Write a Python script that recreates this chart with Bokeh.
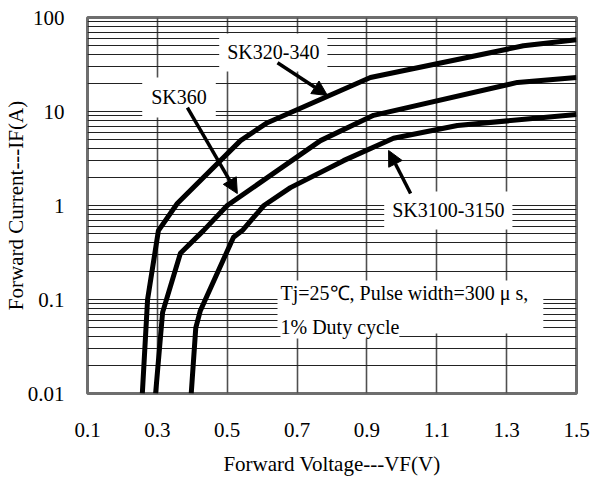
from bokeh.plotting import figure
from bokeh.models import FixedTicker, Arrow, NormalHead, BoxAnnotation
from bokeh.core.properties import value
from bokeh.embed import file_html
from bokeh.resources import INLINE

# ---- data ----
vf_sk320 = [0.257, 0.272, 0.303, 0.357, 0.538, 0.615, 0.91, 1.348, 1.5]
if_sk320 = [0.01, 0.1, 0.54, 1.05, 4.9, 7.6, 23, 50, 58]

vf_sk360 = [0.295, 0.315, 0.366, 0.432, 0.5, 0.767, 0.919, 1.331, 1.5]
if_sk360 = [0.01, 0.073, 0.31, 0.54, 1.0, 4.9, 9.1, 20.4, 23]

vf_sk3100 = [0.397, 0.41, 0.423, 0.518, 0.545, 0.605, 0.681, 0.833, 0.976, 1.159, 1.5]
if_sk3100 = [0.01, 0.05, 0.076, 0.46, 0.55, 1.0, 1.55, 3.0, 5.2, 7.1, 9.3]

x_ticks = [0.1, 0.3, 0.5, 0.7, 0.9, 1.1, 1.3, 1.5]
x_tick_labels = ["0.1", "0.3", "0.5", "0.7", "0.9", "1.1", "1.3", "1.5"]
y_ticks = [0.01, 0.1, 1, 10, 100]
y_tick_labels = ["0.01", "0.1", "1", "10", "100"]

FONT = "Liberation Serif"

p = figure(width=592, height=481, x_range=(0.1, 1.5), y_range=(0.01, 100),
           y_axis_type="log", output_backend="svg", toolbar_location=None,
           min_border_left=87, min_border_right=16, min_border_top=17, min_border_bottom=88)
p.background_fill_color = "white"
p.border_fill_color = "white"
p.outline_line_color = "#6e6e6e"
p.outline_line_width = 3

minor = [k * 10.0 ** e for e in range(-2, 2) for k in range(2, 10)]

p.xaxis.ticker = FixedTicker(ticks=x_ticks)
p.yaxis.ticker = FixedTicker(ticks=y_ticks, minor_ticks=minor)
p.xaxis.major_label_overrides = dict(zip(x_ticks, x_tick_labels))
p.yaxis.major_label_overrides = dict(zip([float(t) for t in y_ticks], y_tick_labels))

for ax in (p.xaxis, p.yaxis):
    ax.axis_line_color = None
    ax.major_tick_line_color = None
    ax.minor_tick_line_color = None
    ax.major_label_text_font = FONT
    ax.major_label_text_font_size = "21px"
    ax.major_label_text_color = "black"
    ax.axis_label_text_font = FONT
    ax.axis_label_text_font_size = "21px"
    ax.axis_label_text_font_style = "normal"
    ax.axis_label_text_color = "black"

p.xaxis.axis_label = "Forward Voltage---VF(V)"
p.yaxis.axis_label = "Forward Current---IF(A)"
p.xaxis.major_label_standoff = 23
p.xaxis.axis_label_standoff = 12
p.yaxis.major_label_standoff = 17
p.yaxis.axis_label_standoff = -3

p.xgrid.ticker = FixedTicker(ticks=x_ticks)
p.xgrid.grid_line_color = "#505050"
p.xgrid.grid_line_width = 1.6
p.ygrid.ticker = FixedTicker(ticks=y_ticks, minor_ticks=minor)
p.ygrid.grid_line_color = "#222222"
p.ygrid.grid_line_width = 1.2
p.ygrid.minor_grid_line_color = "#222222"
p.ygrid.minor_grid_line_width = 1.1

# white condition box above the grid
p.add_layout(BoxAnnotation(left=0.644, right=1.405, top=0.159, bottom=0.0435,
                           fill_color="white", fill_alpha=1.0, line_color=None,
                           level="underlay"))

for xs, ys in ((vf_sk320, if_sk320), (vf_sk360, if_sk360), (vf_sk3100, if_sk3100)):
    p.line(xs, ys, line_color="black", line_width=5, line_join="round", line_cap="butt")

def lab(x, y, text, align="center", pad=6):
    p.text(x=[x], y=[y], text=[text], text_font=value(FONT), text_font_size="20px",
           text_align=align, text_baseline="middle", text_color="black",
           background_fill_color="white", background_fill_alpha=1.0, padding=pad)

lab(0.632, 42.5, "SK320-340", pad=8)
lab(0.362, 14.1, "SK360", pad=9)
lab(1.133, 0.885, "SK3100-3150", pad=8)
lab(0.6525, 0.116, "Tj=25\u2103, Pulse width=300 \u03bc s,", align="left", pad=0)
lab(0.6525, 0.0504, "1% Duty cycle", align="left", pad=0)

def arrow(x0, y0, x1, y1):
    p.add_layout(Arrow(x_start=x0, y_start=y0, x_end=x1, y_end=y1,
                       line_width=3.5, line_color="black",
                       end=NormalHead(size=15, fill_color="black", line_color="black", line_width=1)))

arrow(0.644, 33, 0.787, 14.8)
arrow(0.386, 11, 0.529, 1.34)
arrow(1.025, 1.34, 0.962, 3.85)

open("out.html", "w").write(file_html(p, INLINE))
